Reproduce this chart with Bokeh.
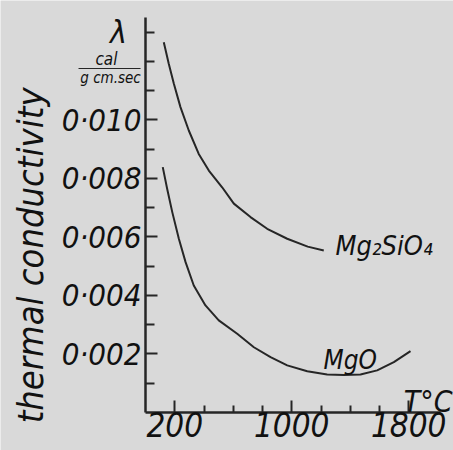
import math
from bokeh.plotting import figure
from bokeh.models import FixedTicker, CustomJSTickFormatter, Label, BoxAnnotation
from bokeh.embed import file_html
from bokeh.resources import INLINE

# Data: temperature (°C) vs thermal conductivity (cal / g cm sec)
mg2sio4_T = [125, 159, 194, 239, 296, 364, 433, 524, 604, 718, 832, 969, 1109, 1219]
mg2sio4_k = [0.01266, 0.01192, 0.01124, 0.01044, 0.00964, 0.00884, 0.00827, 0.00770,
             0.00714, 0.00668, 0.00628, 0.00594, 0.00567, 0.00554]
mgo_T = [118, 148, 183, 228, 274, 330, 410, 501, 627, 741, 855, 969, 1106, 1242,
         1356, 1470, 1584, 1698, 1812]
mgo_k = [0.00839, 0.00765, 0.00685, 0.00594, 0.00514, 0.00434, 0.00366, 0.00315, 0.00269,
         0.00223, 0.00189, 0.00161, 0.00141, 0.00130, 0.00128, 0.00130, 0.00144, 0.00172, 0.00210]

x_major = [200, 1000, 1800]
x_minor = [400, 600, 800, 1200, 1400, 1600]
y_major = [0.002, 0.004, 0.006, 0.008, 0.010]
y_minor = [0.001, 0.003, 0.005, 0.007, 0.009, 0.011, 0.012, 0.013]

BG = "#d9d9d9"
INK = "#262626"
FONT = "DejaVu Sans Condensed, Liberation Sans, sans-serif"

p = figure(width=453, height=450, x_range=(-991.5, 2106.0), y_range=(-0.0013, 0.014085),
           output_backend="svg", toolbar_location=None,
           min_border_left=0, min_border_right=0, min_border_top=0, min_border_bottom=0)
p.background_fill_color = BG
p.border_fill_color = BG
p.outline_line_color = None
p.grid.visible = False

p.line(mg2sio4_T, mg2sio4_k, line_color=INK, line_width=2)
p.line(mgo_T, mgo_k, line_color=INK, line_width=2)

for ax in (p.xaxis[0], p.yaxis[0]):
    ax.fixed_location = 0
    ax.axis_line_color = INK
    ax.axis_line_width = 2.5
    ax.major_tick_line_color = INK
    ax.minor_tick_line_color = INK
    ax.major_tick_line_width = 2
    ax.minor_tick_line_width = 2
    ax.major_tick_out = 0
    ax.minor_tick_out = 0
    ax.major_label_text_font = FONT
    ax.major_label_text_font_style = "italic"
    ax.major_label_text_color = "#111111"

p.xaxis.major_label_text_font_size = "33px"
p.xaxis.bounds = (0, 2017)
p.xaxis.ticker = FixedTicker(ticks=x_major, minor_ticks=x_minor)
p.xaxis.major_tick_in = 12
p.xaxis.minor_tick_in = 7
p.xaxis.major_label_standoff = 0

p.yaxis.major_label_text_font_size = "31px"
p.yaxis.bounds = (0, 0.0135)
p.yaxis.ticker = FixedTicker(ticks=y_major, minor_ticks=y_minor)
p.yaxis.formatter = CustomJSTickFormatter(code="return tick.toFixed(3).replace('.', '\u00b7');")
p.yaxis.major_tick_in = 12
p.yaxis.minor_tick_in = 9
p.yaxis.major_label_standoff = 4

def lab(x, y, text, size, align="left", baseline="alphabetic", angle=0.0):
    p.add_layout(Label(x=x, y=y, text=text, text_font=FONT, text_font_style="italic",
                       text_font_size=size, text_color="#111111", text_align=align,
                       text_baseline=baseline, angle=angle))

lab(1299, 0.00571, "Mg\u2082SiO\u2084", "27px")
lab(1217, 0.00181, "MgO", "26px")
lab(2100, 0.00038, "T\u00b0C", "30px", align="right")
lab(-786, 0.00537, "thermal conductivity", "36px", align="center", baseline="middle", angle=math.pi / 2)
lab(-185, 0.0130, "\u03bb", "32px", align="center", baseline="middle")
lab(-267, 0.0121, "cal", "17px", align="center", baseline="middle")
lab(-239, 0.01145, "g cm.sec", "15px", align="center", baseline="middle")
p.add_layout(BoxAnnotation(left=-458, right=-34, bottom=0.01174, top=0.01178,
                           fill_color=INK, fill_alpha=1, line_color=None))

open("out.html", "w").write(file_html(p, INLINE))
